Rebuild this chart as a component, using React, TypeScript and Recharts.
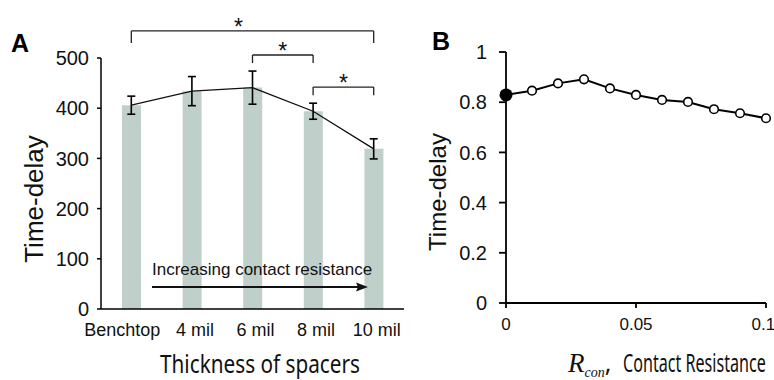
import React from 'react';
import { ComposedChart, LineChart, Bar, Line, ErrorBar, XAxis, YAxis, ReferenceLine } from 'recharts';

// panel A: measured time-delay per spacer thickness
const spacerLabels = ['Benchtop', '4 mil', '6 mil', '8 mil', '10 mil'];
const delayMeans = [406, 434, 441, 394, 319];
const delayErrors = [18, 29, 33, 16, 20];
const delayTicks = [0, 100, 200, 300, 400, 500];

// panel B: simulated time-delay vs contact resistance
const resistance = [0, 0.01, 0.02, 0.03, 0.04, 0.05, 0.06, 0.07, 0.08, 0.09, 0.1];
const simDelay = [0.829, 0.846, 0.875, 0.891, 0.855, 0.829, 0.809, 0.801, 0.772, 0.756, 0.736];
const resistanceTicks = [0, 0.05, 0.1];
const simTicks = [0, 0.2, 0.4, 0.6, 0.8, 1];

// significance brackets (category ends, bar level, foot level, star shift)
const sigBrackets = [
  { from: 'Benchtop', to: '10 mil', top: 554, foot: 530, dx: -14 },
  { from: '6 mil', to: '8 mil', top: 506, foot: 490, dx: 0 },
  { from: '8 mil', to: '10 mil', top: 442, foot: 426, dx: 0 },
];

const sans = '"Liberation Sans", Arial, sans-serif';
const titleFont = '"Noto Sans", "Open Sans", sans-serif';

const spacerData = spacerLabels.map((name, i) => ({ name, mean: delayMeans[i], err: delayErrors[i] }));
const simData = resistance.map((r, i) => ({ r, delay: simDelay[i] }));

const SimDot = (props: any) => {
  const { cx, cy, index } = props;
  if (index === 0) return <circle key={index} cx={cx} cy={cy} r={6.5} fill="#000" />;
  return <circle key={index} cx={cx} cy={cy} r={4.3} fill="#fff" stroke="#000" strokeWidth={1.6} />;
};

// first category label sits a bit left in the original
const SpacerTick = (props: any) => {
  const { x, y, payload, index } = props;
  const shift = index === 0 ? -9 : 3;
  return (
    <text x={x + shift} y={y} dy="0.71em" textAnchor="middle" fill="#111" fontSize={18} fontFamily={sans}>
      {payload.value}
    </text>
  );
};

export default function App() {
  return (
    <div style={{ position: 'absolute', left: 0, top: 0, width: 774, height: 380, background: '#fff' }}>
      <div style={{ position: 'absolute', left: 0, top: 0 }}>
        <ComposedChart width={420} height={380} data={spacerData} margin={{ top: 58, right: 16, bottom: 41, left: 0 }}>
          <XAxis
            dataKey="name"
            height={30}
            tickLine={false}
            tickSize={0}
            tickMargin={14}
            axisLine={{ stroke: '#000', strokeWidth: 1.5 }}
            tick={<SpacerTick />}
          />
          <YAxis
            width={101}
            domain={[0, 500]}
            ticks={delayTicks}
            tickSize={4}
            tickMargin={8}
            axisLine={{ stroke: '#000', strokeWidth: 1.5 }}
            tickLine={{ stroke: '#000', strokeWidth: 1.5 }}
            tick={{ fill: '#111', fontSize: 20, fontFamily: sans }}
          />
          <Bar dataKey="mean" fill="#bfcfca" barSize={19} isAnimationActive={false} />
          <Line dataKey="mean" stroke="#111" strokeWidth={1.3} dot={false} isAnimationActive={false}>
            <ErrorBar dataKey="err" width={4} stroke="#000" strokeWidth={1.6} />
          </Line>
          {sigBrackets.map((b) => (
            <ReferenceLine
              key={b.from + b.to}
              segment={[{ x: b.from, y: b.top }, { x: b.to, y: b.top }]}
              stroke="#222"
              strokeWidth={1.3}
              ifOverflow="visible"
              label={{ value: '*', position: 'top', offset: -4, dx: b.dx, fill: '#111', fontSize: 23, fontFamily: sans }}
            />
          ))}
          {sigBrackets.map((b) => (
            <ReferenceLine
              key={'l' + b.from + b.to}
              segment={[{ x: b.from, y: b.top }, { x: b.from, y: b.foot }]}
              stroke="#222"
              strokeWidth={1.3}
              ifOverflow="visible"
            />
          ))}
          {sigBrackets.map((b) => (
            <ReferenceLine
              key={'r' + b.from + b.to}
              segment={[{ x: b.to, y: b.top }, { x: b.to, y: b.foot }]}
              stroke="#222"
              strokeWidth={1.3}
              ifOverflow="visible"
            />
          ))}
        </ComposedChart>
      </div>
      <div style={{ position: 'absolute', left: 400, top: 0 }}>
        <LineChart width={374} height={380} data={simData} margin={{ top: 52, right: 8, bottom: 47, left: 0 }}>
          <XAxis
            dataKey="r"
            type="number"
            domain={[0, 0.1]}
            ticks={resistanceTicks}
            height={30}
            tickSize={5}
            tickMargin={10}
            axisLine={{ stroke: '#000', strokeWidth: 1.8 }}
            tickLine={{ stroke: '#000', strokeWidth: 1.8 }}
            tick={{ fill: '#111', fontSize: 17, fontFamily: sans }}
          />
          <YAxis
            width={106}
            domain={[0, 1]}
            ticks={simTicks}
            tickSize={7}
            tickMargin={12}
            axisLine={{ stroke: '#000', strokeWidth: 1.8 }}
            tickLine={{ stroke: '#000', strokeWidth: 1.8 }}
            tick={{ fill: '#111', fontSize: 20, fontFamily: sans }}
          />
          <Line dataKey="delay" stroke="#000" strokeWidth={2} dot={SimDot} isAnimationActive={false} />
        </LineChart>
      </div>
      <svg width={774} height={380} style={{ position: 'absolute', left: 0, top: 0, pointerEvents: 'none' }}>
        <text x={11} y={52} fontFamily={sans} fontWeight="bold" fontSize={25} fill="#000">A</text>
        <text x={432} y={50} fontFamily={sans} fontWeight="bold" fontSize={25} fill="#000">B</text>
        <text x={0} y={0} transform="translate(43,199) rotate(-90)" textAnchor="middle" fontFamily={sans} fontSize={26} fill="#111">Time-delay</text>
        <text x={0} y={0} transform="translate(446,192) rotate(-90)" textAnchor="middle" fontFamily={sans} fontSize={24} fill="#111">Time-delay</text>
        <text x={152} y={275} fontFamily={sans} fontSize={17} fill="#111">Increasing contact resistance</text>
        <line x1={152} y1={287} x2={360} y2={287} stroke="#111" strokeWidth={1.8} />
        <polygon points="368,287 356,282.5 358,287 356,291.5" fill="#111" />
        <text x={160} y={373} fontFamily={titleFont} fontSize={25} textLength={200} lengthAdjust="spacingAndGlyphs" fill="#111">Thickness of spacers</text>
        <text x={568} y={372} fill="#111">
          <tspan fontFamily='"Liberation Serif", serif' fontStyle="italic" fontSize={27}>R</tspan>
          <tspan fontFamily='"Liberation Serif", serif' fontStyle="italic" fontSize={14} dy={5}>con</tspan>
          <tspan fontFamily={titleFont} fontSize={25} dy={-5}>,</tspan>
        </text>
        <text x={0} y={0} transform="translate(623,372) scale(0.645,1)" fontFamily={titleFont} fontSize={25} fill="#111">Contact Resistance</text>
      </svg>
    </div>
  );
}
